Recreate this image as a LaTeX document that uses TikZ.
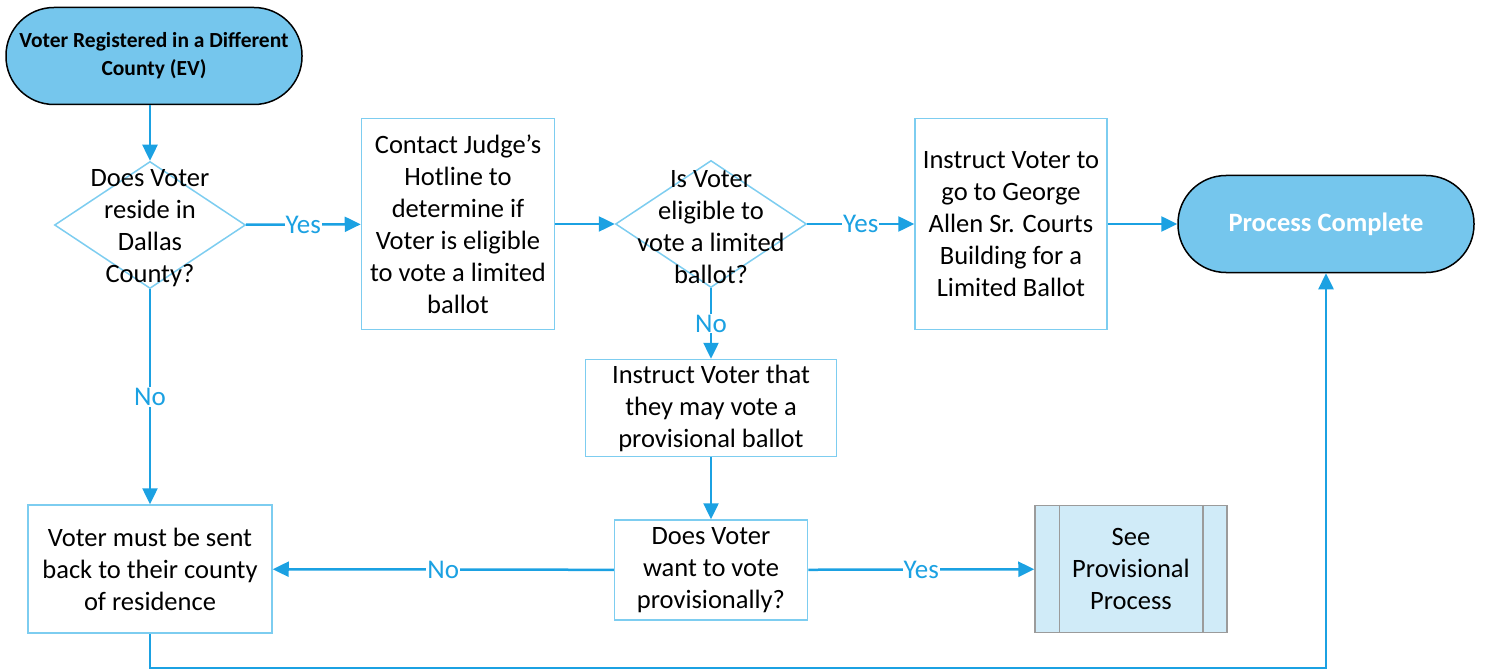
\documentclass[tikz,border=0pt]{standalone}
\usepackage{fontspec}
\setmainfont{Carlito}
\usetikzlibrary{shapes.geometric,arrows.meta}
\definecolor{flowline}{RGB}{27,161,226}
\definecolor{boxline}{RGB}{125,205,240}
\definecolor{termfill}{RGB}{117,198,237}
\definecolor{ppfill}{RGB}{208,235,248}
\definecolor{ppline}{RGB}{155,155,155}
\newcommand{\bodyFont}[0]{\fontsize{26.5}{32}\selectfont}

\begin{document}
\begin{tikzpicture}[x=1pt, y=-1pt]
  \tikzset{
    terminal/.style={draw=black, line width=1.5pt, fill=termfill, rounded corners=48pt,
      minimum width=296pt, minimum height=97pt, align=center, inner sep=0pt},
    decision/.style={diamond, draw=boxline, line width=1.5pt, minimum width=191pt,
      minimum height=127pt, inner sep=0pt},
    stepbox/.style={draw=boxline, line width=1.5pt, align=center, font=\bodyFont, inner sep=0pt},
    subproc/.style={draw=ppline, line width=1.5pt, fill=ppfill, align=center, font=\bodyFont,
      minimum width=192pt, minimum height=127pt, inner sep=0pt},
    qtext/.style={align=center, font=\bodyFont, inner sep=0pt},
    flow/.style={draw=flowline, line width=2.5pt, -{Triangle[length=16pt,width=15pt]}},
    answer/.style={fill=white, text=flowline, font=\fontsize{27}{32}\selectfont, inner sep=1pt}
  }
  \useasboundingbox (0,0) rectangle (1486,671);

  % terminals
  \node[terminal, font=\fontsize{21.5}{28}\selectfont\bfseries] (start) at (154,56)
    {Voter Registered in a Different\\County (EV)};
  \node[terminal, font=\fontsize{26.5}{30}\selectfont\bfseries, text=white] (done) at (1326,224)
    {Process Complete};

  % decisions
  \node[decision] (dallas) at (150,225) {};
  \node[qtext] at ([yshift=-3pt]dallas) {Does Voter\\reside in\\Dallas\\County?};
  \node[decision] (eligible) at (711,224) {};
  \node[qtext] at ([yshift=-3pt]eligible) {Is Voter\\eligible to\\vote a limited\\ballot?};

  % steps
  \node[stepbox, minimum width=193pt, minimum height=211pt] (hotline) at (458,224)
    {Contact Judge's\\Hotline to\\determine if\\Voter is eligible\\to vote a limited\\ballot};
  \node[stepbox, minimum width=192pt, minimum height=211pt] (courts) at (1011,224)
    {Instruct Voter to\\go to George\\Allen Sr. Courts\\Building for a\\Limited Ballot};
  \node[stepbox, minimum width=251pt, minimum height=97pt] (mayvote) at (711,408)
    {Instruct Voter that\\they may vote a\\provisional ballot};
  \node[stepbox, minimum width=193pt, minimum height=100pt] (wantvote) at (711,570)
    {Does Voter\\want to vote\\provisionally?};
  \node[stepbox, minimum width=244pt, minimum height=128pt] (sentback) at (150,569)
    {Voter must be sent\\back to their county\\of residence};
  \node[subproc] (provproc) at (1131,569) {See\\Provisional\\Process};
  \draw[ppline, line width=1.5pt] ([xshift=25pt]provproc.north west) -- ([xshift=25pt]provproc.south west);
  \draw[ppline, line width=1.5pt] ([xshift=-25pt]provproc.north east) -- ([xshift=-25pt]provproc.south east);

  % connectors
  \coordinate (loopturn) at (150,668);
  \draw[flow] (dallas.north |- start.south) -- (dallas);
  \draw[flow] (dallas) -- node[answer] {Yes} (hotline);
  \draw[flow] (hotline) -- (eligible);
  \draw[flow] (eligible) -- node[answer] {Yes} (courts);
  \draw[flow] (courts) -- (done);
  \draw[flow] (eligible) -- node[answer] {No} (mayvote);
  \draw[flow] (mayvote) -- (wantvote);
  \draw[flow] (dallas) -- node[answer] {No} (sentback);
  \draw[flow] (wantvote) -- node[answer] {No} (sentback);
  \draw[flow] (wantvote) -- node[answer] {Yes} (provproc);
  \draw[flow] (sentback.south) -- (loopturn) -| (done.south);
\end{tikzpicture}
\end{document}
